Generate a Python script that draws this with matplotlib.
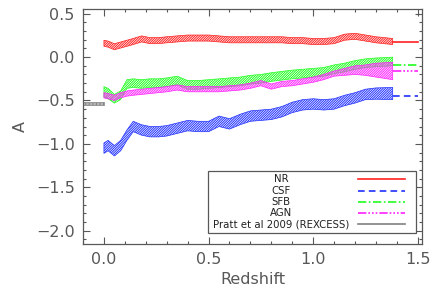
import matplotlib
matplotlib.use("Agg")
import numpy as np
import matplotlib.pyplot as plt
from matplotlib.ticker import MultipleLocator
from matplotlib.patches import Rectangle

# redshift sampling of the bands
z = [0.0, 0.02, 0.05, 0.08, 0.11, 0.14, 0.18, 0.22, 0.26, 0.30, 0.35, 0.40,
     0.45, 0.50, 0.55, 0.60, 0.65, 0.70, 0.75, 0.80, 0.85, 0.90, 0.95, 1.00,
     1.05, 1.10, 1.15, 1.20, 1.25, 1.30, 1.38]

# band centres and half widths
nr = [0.16, 0.15, 0.12, 0.14, 0.16, 0.18, 0.21, 0.19, 0.19, 0.20, 0.21, 0.22,
      0.22, 0.22, 0.21, 0.20, 0.20, 0.20, 0.20, 0.20, 0.20, 0.19, 0.19, 0.18,
      0.18, 0.19, 0.23, 0.24, 0.22, 0.20, 0.18]
nr_err = [0.035] * len(z)

csf = [-1.05, -1.02, -1.08, -1.02, -0.90, -0.80, -0.84, -0.86, -0.86, -0.85,
       -0.82, -0.79, -0.80, -0.80, -0.74, -0.77, -0.72, -0.68, -0.67, -0.66,
       -0.63, -0.58, -0.55, -0.54, -0.55, -0.54, -0.50, -0.47, -0.43, -0.42,
       -0.42]
csf_err = [0.06] * 28 + [0.06, 0.065, 0.07]

sfb = [-0.40, -0.42, -0.48, -0.44, -0.31, -0.30, -0.31, -0.30, -0.30, -0.29,
       -0.27, -0.32, -0.32, -0.31, -0.30, -0.29, -0.28, -0.26, -0.25, -0.23,
       -0.215, -0.20, -0.19, -0.18, -0.17, -0.14, -0.12, -0.09, -0.07, -0.06,
       -0.05]
sfb_err = [0.06, 0.06] + [0.05] * 29

agn = [-0.44, -0.45, -0.47, -0.44, -0.42, -0.41, -0.40, -0.39, -0.38, -0.37,
       -0.35, -0.37, -0.37, -0.37, -0.37, -0.36, -0.35, -0.33, -0.30, -0.34,
       -0.31, -0.30, -0.28, -0.26, -0.23, -0.19, -0.17, -0.15, -0.15, -0.15,
       -0.16]
agn_err = [0.03] * 26 + [0.04, 0.05, 0.06, 0.08, 0.10]

# z -> 1.5 continuation levels
z_ext = [1.38, 1.5]
nr_ext = 0.18
csf_ext = -0.445
sfb_ext = -0.09
agn_ext = -0.16

# Pratt et al 2009 (REXCESS)
z_pratt = [-0.1, 0.0]
pratt = -0.53
pratt_err = 0.018

names = ["NR", "CSF", "SFB", "AGN", "Pratt et al 2009 (REXCESS)"]
colors = ["#ff2020", "#2030ff", "#20ff20", "#ff20ff", "#808080"]
styles = ["-", (0, (4, 2.5)), (0, (5, 1.5, 1, 1.5)), (0, (5, 1.2, 1, 1.2, 1, 1.2, 1, 1.2)), "-"]

plt.rcParams["hatch.linewidth"] = 0.7
txt = "#585858"

fig = plt.figure(figsize=(4.36, 2.91), dpi=100)
ax = fig.add_axes([83 / 436, 1 - 244 / 291, 339 / 436, 235 / 291])

zz = np.array(z)
bands = [(nr, nr_err), (csf, csf_err), (sfb, sfb_err), (agn, agn_err)]
for (c, e), col in zip(bands, colors):
    c = np.array(c)
    e = np.array(e)
    ax.fill_between(zz, c - e, c + e, facecolor="none", edgecolor=col,
                    hatch="/" * 14, linewidth=0.5)

ax.fill_between(z_pratt, pratt - pratt_err, pratt + pratt_err, facecolor="none",
                edgecolor=colors[4], hatch="|" * 12, linewidth=0.5)

for lev, col, ls in zip([nr_ext, csf_ext, sfb_ext, agn_ext], colors, styles):
    ax.plot(z_ext, [lev, lev], color=col, ls=ls, lw=1.2)

ax.set_xlim(-0.1, 1.52)
ax.set_ylim(-2.155, 0.555)
ax.xaxis.set_major_locator(MultipleLocator(0.5))
ax.xaxis.set_minor_locator(MultipleLocator(0.1))
ax.yaxis.set_major_locator(MultipleLocator(0.5))
ax.yaxis.set_minor_locator(MultipleLocator(0.1))
ax.tick_params(which="both", direction="in", top=True, right=True,
               colors=txt, labelcolor=txt, labelsize=11.5, width=0.8)
ax.tick_params(which="major", length=5, pad=6)
ax.tick_params(which="minor", length=2.5)
ax.xaxis.set_major_formatter(plt.FuncFormatter(lambda v, p: f"{v:.1f}".replace("-", "\u2212")))
ax.yaxis.set_major_formatter(plt.FuncFormatter(lambda v, p: f"{v:.1f}".replace("-", "\u2212")))
for s in ax.spines.values():
    s.set_color(txt)
    s.set_linewidth(0.9)

ax.set_xlabel("Redshift", color=txt, fontsize=11.5, labelpad=3)
ax.set_ylabel("A", color=txt, fontsize=11.5, labelpad=6)

# legend box drawn by hand (IDL style)
ax.add_patch(Rectangle((0.369, 0.047), 0.613, 0.264, transform=ax.transAxes,
                       facecolor="white", edgecolor=txt, lw=0.9, zorder=5))
rows = [0.275, 0.227, 0.180, 0.133, 0.085]
for name, col, ls, y in zip(names, colors, styles, rows):
    ax.text(0.584, y, name, transform=ax.transAxes, ha="center", va="center",
            fontsize=7.3, color="#202020", zorder=6)
    ax.plot([0.811, 0.950], [y, y], transform=ax.transAxes, color=col, ls=ls,
            lw=1.2, zorder=6)

fig.savefig("out.png", dpi=100)
